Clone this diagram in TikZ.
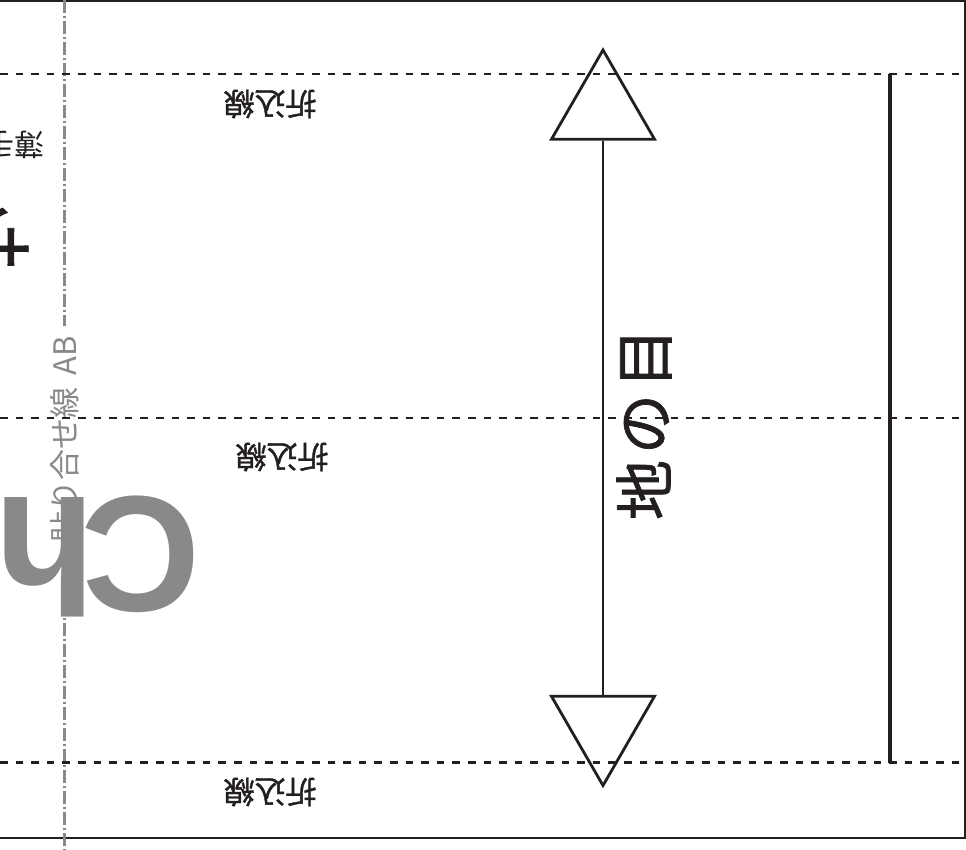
\documentclass[tikz,border=0pt]{standalone}
\usepackage{fontspec}
\usepackage{tikz}
\usetikzlibrary{shapes.geometric}
\newfontfamily\jpfont{Noto Sans CJK JP}
\newfontfamily\jpmid[FakeBold=1.2]{Noto Sans CJK JP}
\newfontfamily\latfont{Liberation Sans}
\definecolor{ink}{HTML}{231F20}
\definecolor{mid}{HTML}{898989}
\tikzstyle{fold}=[draw = ink, line width = 2.8pt, dash pattern = on 7.5pt off 8.1pt]
\tikzstyle{glue}=[draw = mid, line width = 2.4pt, dash pattern = on 12.5pt off 3pt on 2.5pt off 3pt]
\tikzstyle{tri}=[regular polygon, regular polygon sides = 3, draw = ink, line width = 2.8pt, minimum size = 119pt, inner sep = 0pt]
\tikzstyle{lbl}=[inner sep = 0pt, text = ink, rotate = 180, font = \jpmid\fontsize{31}{31}\selectfont]

\begin{document}
\begin{tikzpicture}[x = 1pt, y = -1pt]
\useasboundingbox (0,0) rectangle (966,849);
\clip (0,0) rectangle (966,849);
%\draw (0,0) rectangle (966,849);
\draw [ink, line width = 1.8pt] (0,0.9) -- (964.6,0.9) -- (964.6,837.6) -- (0,837.6);
\draw [glue] (64.5,0) -- (64.5,326);
\draw [glue] (64.5,560) -- (64.5,849);
%%%%%%%%%%%%%%%%%%%%%%%
\draw [fold] (0,74) -- (966,74);
\draw [fold] (0,418) -- (966,418);
\draw [fold] (0,762.5) -- (966,762.5);
\draw [ink, line width = 3.2pt] (890,74) -- (890,762.5);
%%%%%%%%%%%%%%%%%%%%%%%
\node (ch) at (98,497) [anchor = base, rotate = 180, inner sep = 0pt, text = mid, font = \latfont\bfseries\fontsize{165}{165}\selectfont] {C\kern-14pt h};
\node (seam) at (65,439) [rotate = 90, inner sep = 0pt, text = mid, font = \jpfont\fontsize{31}{31}\selectfont] {貼り合せ線\hspace{12pt}AB};
\node (thin) at (14,145) [rotate = 180, inner sep = 0pt, text = ink, font = \jpfont\fontsize{30}{30}\selectfont] {薄手};
\node (big) at (-2,237) [rotate = 180, inner sep = 0pt, text = ink, font = \jpmid\fontsize{70}{70}\selectfont] {サ};
%%%%%%%%%%%%%%%%%%%%%%%
\node (f1) at (270,104) [lbl] {折込線};
\node (f2) at (282,457) [lbl] {折込線};
\node (f3) at (270,792) [lbl] {折込線};
%%%%%%%%%%%%%%%%%%%%%%%
\node (up) at (603,109.5) [tri] {};
\node (dn) at (603,726) [tri, shape border rotate = 180] {};
\draw [ink, line width = 2.4pt] (up.south) -- (dn.north);
\node (grain) at (644,424) [rotate = 90, inner sep = 0pt, text = ink, font = \jpmid\fontsize{60}{60}\selectfont] {地\hspace{6pt}の\hspace{6pt}目};
\end{tikzpicture}
\end{document}
